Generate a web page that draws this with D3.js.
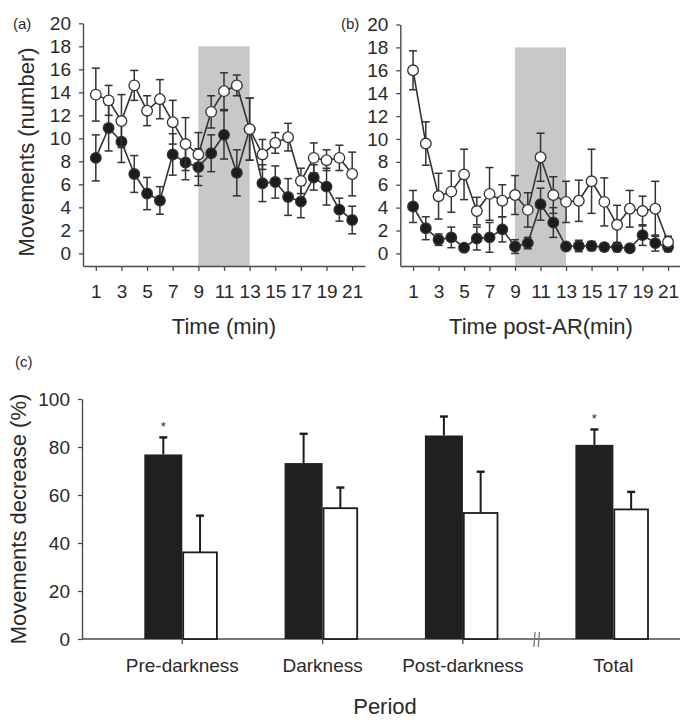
<!DOCTYPE html>
<html>
<head>
<meta charset="utf-8">
<script src="https://cdn.jsdelivr.net/npm/d3@7/dist/d3.min.js"></script>
<style>
  html, body { margin: 0; padding: 0; background: #fff; }
  svg { display: block; }
  text { font-family: "Liberation Sans", Arial, Helvetica, sans-serif; fill: #2a2a2a; }
</style>
</head>
<body>
<svg id="chart" width="680" height="723"></svg>
<script>
// ---------------- DATA ----------------
const minutes = [1,2,3,4,5,6,7,8,9,10,11,12,13,14,15,16,17,18,19,20,21];
const minuteTicks = [1,3,5,7,9,11,13,15,17,19,21];
const movementTicks = [0,2,4,6,8,10,12,14,16,18,20];
const darkStart = 9, darkEnd = 13, darkTop = 18;

// Panel (a): Time (min)
const aOpen      = [13.8,13.3,11.5,14.6,12.4,13.4,11.4,9.5,8.6,12.3,14.1,14.6,10.8,8.6,9.6,10.1,6.3,8.3,8.1,8.3,6.9];
const aOpenErr   = [2.3,1.3,2.3,1.3,1.3,1.7,1.9,2.3,1.9,1.4,1.6,0.9,2.7,1.3,0.9,1.2,1.1,1.3,0.9,1.1,1.9];
const aFilled    = [8.3,10.9,9.7,6.9,5.2,4.6,8.6,7.9,7.5,8.7,10.3,7.0,10.8,6.1,6.2,4.9,4.5,6.6,5.8,3.8,2.9];
const aFilledErr = [2.0,2.0,1.8,1.6,1.4,1.2,1.8,1.5,1.6,1.6,2.1,2.0,2.7,1.6,1.4,1.6,1.4,1.1,1.6,1.0,1.2];

// Panel (b): Time post-AR (min)
const bOpen      = [16.0,9.6,5.0,5.4,6.9,3.7,5.2,4.6,5.1,3.8,8.4,5.1,4.5,4.6,6.3,4.5,2.5,3.9,3.7,3.9,1.0];
const bOpenErr   = [1.7,1.9,2.0,1.8,2.2,1.2,2.3,1.4,1.7,1.5,2.1,1.6,1.8,1.8,2.8,2.1,1.7,1.6,1.3,2.4,0.5];
const bFilled    = [4.1,2.2,1.2,1.4,0.5,1.3,1.4,2.1,0.6,0.9,4.3,2.7,0.6,0.65,0.65,0.55,0.55,0.45,1.6,0.9,0.55];
const bFilledErr = [1.4,1.0,0.5,0.9,0.2,1.0,1.3,1.1,0.6,0.5,1.4,1.3,0.2,0.5,0.4,0.3,0.4,0.2,0.9,0.7,0.4];

// Panel (c): Movements decrease (%)
const periods       = ["Pre-darkness","Darkness","Post-darkness","Total"];
const decFilled     = [76.9,73.3,84.8,80.9];
const decFilledErr  = [7.1,12.2,7.9,6.4];
const decOpen       = [36.1,54.5,52.5,54.0];
const decOpenErr    = [15.3,8.6,17.2,7.3];
const significant   = [true,false,false,true];
const decreaseTicks = [0,20,40,60,80,100];

// ---------------- DRAW ----------------
const svg = d3.select("#chart");
const AX = "#4a4a4a";
const LINE = "#333";

function timePanel(opts) {
  const g = svg.append("g");
  const x = d3.scaleLinear().domain([0,22]).range(opts.xr);
  const y = d3.scaleLinear().domain([-1.1,20]).range([266, opts.yTop]);

  // darkness shading
  g.append("rect")
    .attr("x", x(darkStart)).attr("width", x(darkEnd)-x(darkStart))
    .attr("y", y(darkTop)).attr("height", y(-1.1)-y(darkTop))
    .attr("fill", "#c7c8ca");

  // axes
  const ya = g.append("g").attr("transform", `translate(${x(0)},0)`)
    .call(d3.axisLeft(y).tickValues(movementTicks).tickSize(4).tickSizeOuter(0).tickPadding(opts.yPad));
  const xa = g.append("g").attr("transform", `translate(0,${y(-1.1)})`)
    .call(d3.axisBottom(x).tickValues(minuteTicks).tickSize(5).tickSizeOuter(0).tickPadding(14));
  [ya, xa].forEach(a => {
    a.select(".domain").attr("stroke", AX).attr("stroke-width", 1.4);
    a.selectAll(".tick line").attr("stroke", AX).attr("stroke-width", 1.3);
    a.selectAll("text").attr("font-size", 19).attr("fill", "#2a2a2a")
      .style("font-family", '"Liberation Sans", Arial, sans-serif');
  });

  const series = [
    {v: opts.filled, e: opts.filledErr, fill: "#1c1c1c"},
    {v: opts.open, e: opts.openErr, fill: "#ffffff"}
  ];
  series.forEach(s => {
    const pts = minutes.map((m,i) => ({m, v: s.v[i], e: s.e[i]}));
    // error bars
    const eg = g.append("g").attr("stroke", LINE).attr("stroke-width", 1.5).attr("fill", "none");
    pts.forEach(p => {
      const cx = x(p.m);
      eg.append("line").attr("x1", cx).attr("x2", cx).attr("y1", y(p.v - p.e)).attr("y2", y(p.v + p.e));
      eg.append("line").attr("x1", cx-4).attr("x2", cx+4).attr("y1", y(p.v + p.e)).attr("y2", y(p.v + p.e));
      eg.append("line").attr("x1", cx-4).attr("x2", cx+4).attr("y1", y(p.v - p.e)).attr("y2", y(p.v - p.e));
    });
    // line
    g.append("path").datum(pts)
      .attr("d", d3.line().x(p => x(p.m)).y(p => y(p.v)))
      .attr("fill", "none").attr("stroke", LINE).attr("stroke-width", 1.6);
    // markers
    g.append("g").selectAll("circle").data(pts).join("circle")
      .attr("cx", p => x(p.m)).attr("cy", p => y(p.v)).attr("r", 5.3)
      .attr("fill", s.fill).attr("stroke", LINE).attr("stroke-width", 1.3);
  });

  // x title
  g.append("text").attr("x", opts.titleX).attr("y", 334)
    .attr("text-anchor", "middle").attr("font-size", 22).text(opts.title);
  // panel label
  g.append("text").attr("x", opts.labX).attr("y", 29).attr("font-size", 15).text(opts.label);
}

timePanel({xr: [83, 365], yTop: 23.3, yPad: 8, filled: aFilled, filledErr: aFilledErr,
  open: aOpen, openErr: aOpenErr, title: "Time (min)", titleX: 224, label: "(a)", labX: 13});
timePanel({xr: [400.3, 680.8], yTop: 24.5, yPad: 8, filled: bFilled, filledErr: bFilledErr,
  open: bOpen, openErr: bOpenErr, title: "Time post-AR(min)", titleX: 541, label: "(b)", labX: 341});

// y title for (a)/(b)
svg.append("text").attr("transform", "translate(34,152) rotate(-90)")
  .attr("text-anchor", "middle").attr("font-size", 22).text("Movements (number)");

// ---------------- Panel (c) ----------------
const gc = svg.append("g");
const yc = d3.scaleLinear().domain([0,100]).range([639, 399]);
const xc = d3.scalePoint().domain(periods).range([182.3, 603.2]);
const breakShift = 10.2;
const center = (p, i) => xc(p) + (i === 3 ? breakShift : 0);
const bwF = 38, bwO = 35.5;

const yca = gc.append("g").attr("transform", "translate(82,0)")
  .call(d3.axisLeft(yc).tickValues(decreaseTicks).tickSize(4).tickSizeOuter(0).tickPadding(8));
yca.select(".domain").attr("stroke", AX).attr("stroke-width", 1.4);
yca.selectAll(".tick line").attr("stroke", AX).attr("stroke-width", 1.3);
yca.selectAll("text").attr("font-size", 19).attr("fill", "#2a2a2a")
  .style("font-family", '"Liberation Sans", Arial, sans-serif');

// x axis line
gc.append("line").attr("x1", 82).attr("x2", 680).attr("y1", yc(0)).attr("y2", yc(0))
  .attr("stroke", AX).attr("stroke-width", 1.4);

// bars
periods.forEach((p, i) => {
  const c = center(p, i);
  gc.append("rect").attr("x", c - bwF).attr("width", bwF)
    .attr("y", yc(decFilled[i])).attr("height", yc(0) - yc(decFilled[i]))
    .attr("fill", "#221f20");
  gc.append("rect").attr("x", c + 0.9).attr("width", bwO - 1.8)
    .attr("y", yc(decOpen[i])).attr("height", yc(0) - yc(decOpen[i]))
    .attr("fill", "#fff").attr("stroke", "#1c1c1c").attr("stroke-width", 1.8);
  // error bars (upper only)
  [[c - bwF/2, decFilled[i], decFilledErr[i]], [c + bwO/2, decOpen[i], decOpenErr[i]]].forEach(([ex, v, e]) => {
    gc.append("line").attr("x1", ex).attr("x2", ex).attr("y1", yc(v)).attr("y2", yc(v + e))
      .attr("stroke", "#1c1c1c").attr("stroke-width", 2);
    gc.append("line").attr("x1", ex - 4).attr("x2", ex + 4).attr("y1", yc(v + e)).attr("y2", yc(v + e))
      .attr("stroke", "#1c1c1c").attr("stroke-width", 2.4);
  });
  if (significant[i]) {
    gc.append("text").attr("x", c - bwF/2).attr("y", yc(decFilled[i] + decFilledErr[i]) - 6)
      .attr("text-anchor", "middle").attr("font-size", 13).attr("fill", "#555").text("*");
  }
  // category tick (not on Total)
  if (i < 3) {
    gc.append("line").attr("x1", c).attr("x2", c).attr("y1", yc(0)).attr("y2", yc(0) + 5)
      .attr("stroke", AX).attr("stroke-width", 1.3);
  }
  gc.append("text").attr("x", c).attr("y", 672).attr("text-anchor", "middle")
    .attr("font-size", 19).text(p);
});

// axis break marks
const bx = (center(periods[2], 2) + center(periods[3], 3)) / 2 - 1.5;
[-2.2, 2.2].forEach(dx => {
  gc.append("line").attr("x1", bx + dx - 0.6).attr("x2", bx + dx + 0.6)
    .attr("y1", yc(0) + 8).attr("y2", yc(0) - 7)
    .attr("stroke", "#777").attr("stroke-width", 1.3);
});

gc.append("text").attr("x", 385).attr("y", 714).attr("text-anchor", "middle")
  .attr("font-size", 22).text("Period");
gc.append("text").attr("transform", "translate(26,519) rotate(-90)")
  .attr("text-anchor", "middle").attr("font-size", 22).text("Movements decrease (%)");
gc.append("text").attr("x", 15).attr("y", 367).attr("font-size", 15).text("(c)");
</script>
</body>
</html>
